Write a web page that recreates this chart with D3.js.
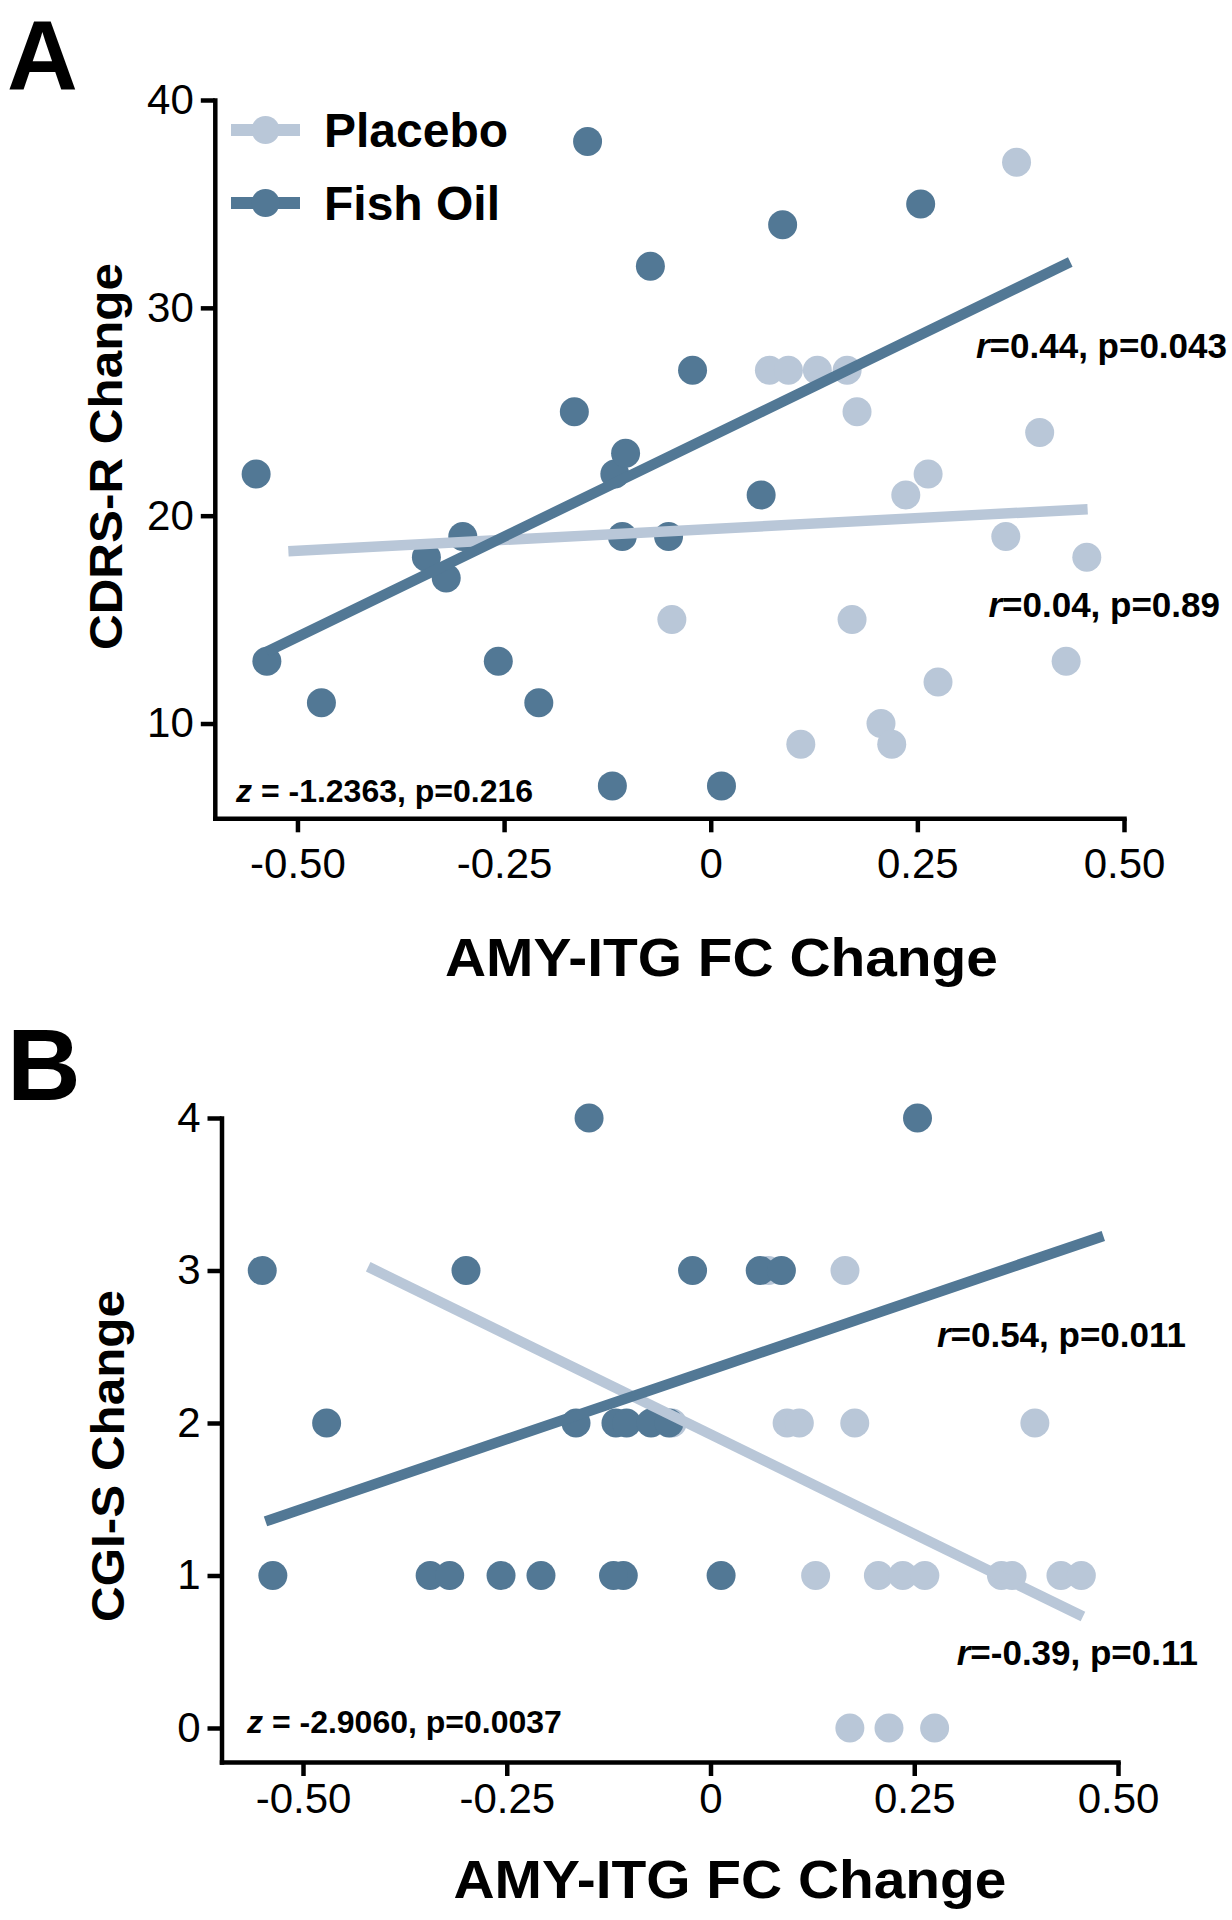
<!DOCTYPE html>
<html>
<head>
<meta charset="utf-8">
<script src="https://cdn.jsdelivr.net/npm/d3@7"></script>
<style>
  html, body { margin: 0; padding: 0; background: #ffffff; }
  svg { display: block; font-family: "Liberation Sans", Arial, Helvetica, sans-serif; }
</style>
</head>
<body>
<svg id="chart" width="1232" height="1920"></svg>
<script>
// ---------------- data ----------------
const groups = ["Placebo", "Fish Oil"];

const fishX    = [-0.550, -0.537, -0.471, -0.344, -0.320, -0.300, -0.257, -0.208, -0.165, -0.149, -0.116, -0.103, -0.107, -0.119, -0.073, -0.051, -0.022, 0.013, 0.061, 0.087, 0.254];
const fishCDRS = [22, 13, 11, 18, 17, 19, 13, 11, 25, 38, 22, 23, 19, 7, 32, 19, 27, 7, 21, 34, 35];
const fishCGI  = [3, 1, 2, 1, 1, 3, 1, 1, 2, 4, 2, 2, 1, 1, 2, 2, 3, 1, 3, 3, 4];

const placeboX    = [-0.047, 0.071, 0.094, 0.109, 0.129, 0.165, 0.171, 0.177, 0.206, 0.219, 0.236, 0.263, 0.275, 0.357, 0.370, 0.398, 0.430, 0.455];
const placeboCDRS = [15, 27, 27, 9, 27, 27, 15, 25, 10, 9, 21, 22, 12, 19, 37, 24, 13, 18];
const placeboCGI  = [2, 3, 2, 2, 1, 3, 0, 2, 1, 0, 1, 1, 0, 1, 1, 2, 1, 1];

// x-extent over which each fitted line is drawn
const fitRangeA = { placebo: [-0.511, 0.456], fish: [-0.537, 0.435] };
const fitRangeB = { placebo: [-0.420, 0.457], fish: [-0.546, 0.482] };

const xTicks = [-0.5, -0.25, 0, 0.25, 0.5];
const xTickLabels = ["-0.50", "-0.25", "0", "0.25", "0.50"];
const yTicksA = [10, 20, 30, 40];
const yTicksB = [0, 1, 2, 3, 4];

const statsA = { fish: "0.44, p=0.043", placebo: "0.04, p=0.89", z: " = -1.2363,  p=0.216" };
const statsB = { fish: "0.54, p=0.011", placebo: "-0.39, p=0.11", z: " = -2.9060,  p=0.0037" };

const xTitle = "AMY-ITG FC Change";
const yTitleA = "CDRS-R Change";
const yTitleB = "CGI-S Change";

// ---------------- style ----------------
const colFish = "#527895";
const colPlacebo = "#b9c7d8";
const R = 14.5;
const LINE_W = 10.5;
const AXIS_W = 4.5;

const svg = d3.select("#chart");
svg.append("rect").attr("width", 1232).attr("height", 1920).attr("fill", "#fff");

function fit(xs, ys) {
  const mx = d3.mean(xs), my = d3.mean(ys);
  let sxy = 0, sxx = 0;
  xs.forEach((x, i) => { sxy += (x - mx) * (ys[i] - my); sxx += (x - mx) * (x - mx); });
  const b = sxy / sxx;
  return { a: my - b * mx, b };
}

function panel(cfg) {
  const g = svg.append("g");
  const x = d3.scaleLinear().domain([-0.6, 0.5]).range(cfg.xRange);
  const y = d3.scaleLinear().domain(cfg.yDomain).range(cfg.yRange);

  // points: placebo first, fish on top
  const pData = placeboX.map((v, i) => ({ x: v, y: cfg.placeboY[i] }));
  const fData = fishX.map((v, i) => ({ x: v, y: cfg.fishY[i] }));
  g.append("g").selectAll("circle").data(pData).join("circle")
    .attr("cx", d => x(d.x)).attr("cy", d => y(d.y)).attr("r", R).attr("fill", colPlacebo);
  g.append("g").selectAll("circle").data(fData).join("circle")
    .attr("cx", d => x(d.x)).attr("cy", d => y(d.y)).attr("r", R).attr("fill", colFish);

  // regression lines
  const lp = fit(placeboX, cfg.placeboY);
  const lf = fit(fishX, cfg.fishY);
  const line = d3.line().x(d => x(d[0])).y(d => y(d[1]));
  const mk = (f, r) => r.map(v => [v, f.a + f.b * v]);
  g.append("path").attr("d", line(mk(lp, cfg.fitRange.placebo)))
    .attr("stroke", colPlacebo).attr("stroke-width", LINE_W).attr("fill", "none");
  g.append("path").attr("d", line(mk(lf, cfg.fitRange.fish)))
    .attr("stroke", colFish).attr("stroke-width", LINE_W).attr("fill", "none");

  // axes
  const xAxis = d3.axisBottom(x).tickValues(xTicks)
    .tickFormat((d, i) => xTickLabels[i]).tickSize(14).tickSizeOuter(0).tickPadding(cfg.xPad);
  const yAxis = d3.axisLeft(y).tickValues(cfg.yTicks).tickFormat(d3.format("d"))
    .tickSize(14).tickSizeOuter(0).tickPadding(7);
  const gx = g.append("g").attr("transform", `translate(0,${cfg.yRange[0]})`).call(xAxis);
  const gy = g.append("g").attr("transform", `translate(${cfg.xRange[0]},0)`).call(yAxis);
  [gx, gy].forEach(a => {
    a.select(".domain").attr("stroke", "#000").attr("stroke-width", AXIS_W).attr("stroke-linecap", "square");
    a.selectAll(".tick line").attr("stroke", "#000").attr("stroke-width", AXIS_W);
    a.selectAll(".tick text").attr("fill", "#000").style("font-size", "42px")
      .style("font-family", "'Liberation Sans', Arial, sans-serif");
  });

  // titles
  g.append("text").attr("x", cfg.xTitlePos[0]).attr("y", cfg.xTitlePos[1])
    .attr("text-anchor", "middle").attr("font-weight", "bold").style("font-size", "54px")
    .attr("textLength", 553).attr("lengthAdjust", "spacingAndGlyphs").text(xTitle);
  g.append("text").attr("transform", `translate(${cfg.yTitlePos[0]},${cfg.yTitlePos[1]}) rotate(-90)`)
    .attr("text-anchor", "middle").attr("font-weight", "bold").style("font-size", "46px")
    .attr("textLength", cfg.yTitleLen).attr("lengthAdjust", "spacingAndGlyphs").text(cfg.yTitle);

  // panel letter
  g.append("text").attr("x", cfg.letterPos[0]).attr("y", cfg.letterPos[1])
    .attr("font-weight", "bold").style("font-size", cfg.letterSize + "px").text(cfg.letter);

  // annotations
  const ann = (pos, rText, anchor, size, letterChar) => {
    const t = g.append("text").attr("x", pos[0]).attr("y", pos[1]).attr("text-anchor", anchor)
      .attr("font-weight", "bold").style("font-size", size + "px");
    t.append("tspan").attr("font-style", "italic").text(letterChar);
    t.append("tspan").text(letterChar === "r" ? "=" + rText : rText);
  };
  ann(cfg.fishAnn, cfg.stats.fish, "end", 35, "r");
  ann(cfg.placeboAnn, cfg.stats.placebo, "end", 35, "r");
  ann(cfg.zAnn, cfg.stats.z, "start", 32, "z");
  return g;
}

panel({
  letter: "A", letterPos: [7, 89], letterSize: 98,
  xRange: [214.8, 1124], yDomain: [5.44, 40], yRange: [818.3, 100],
  yTicks: yTicksA, xPad: 16,
  fishY: fishCDRS, placeboY: placeboCDRS, fitRange: fitRangeA,
  xTitlePos: [721.5, 976], yTitlePos: [122, 456.5], yTitle: yTitleA, yTitleLen: 387,
  stats: statsA, fishAnn: [1227, 358], placeboAnn: [1220, 617], zAnn: [236, 802]
});

panel({
  letter: "B", letterPos: [7, 1100], letterSize: 102,
  xRange: [221.5, 1118], yDomain: [-0.223, 4], yRange: [1762, 1118],
  yTicks: yTicksB, xPad: 7,
  fishY: fishCGI, placeboY: placeboCGI, fitRange: fitRangeB,
  xTitlePos: [730, 1898], yTitlePos: [124, 1456], yTitle: yTitleB, yTitleLen: 332,
  stats: statsB, fishAnn: [1186, 1347], placeboAnn: [1198, 1665], zAnn: [247, 1733]
});

// legend
const legend = svg.append("g");
const legendY = [130, 203];
const legendCols = [colPlacebo, colFish];
groups.forEach((name, i) => {
  legend.append("line").attr("x1", 231).attr("x2", 300).attr("y1", legendY[i]).attr("y2", legendY[i])
    .attr("stroke", legendCols[i]).attr("stroke-width", 12);
  legend.append("circle").attr("cx", 265.5).attr("cy", legendY[i]).attr("r", 14).attr("fill", legendCols[i]);
  legend.append("text").attr("x", 324).attr("y", legendY[i] + 17).attr("font-weight", "bold")
    .style("font-size", "48px").text(name);
});
</script>
</body>
</html>
